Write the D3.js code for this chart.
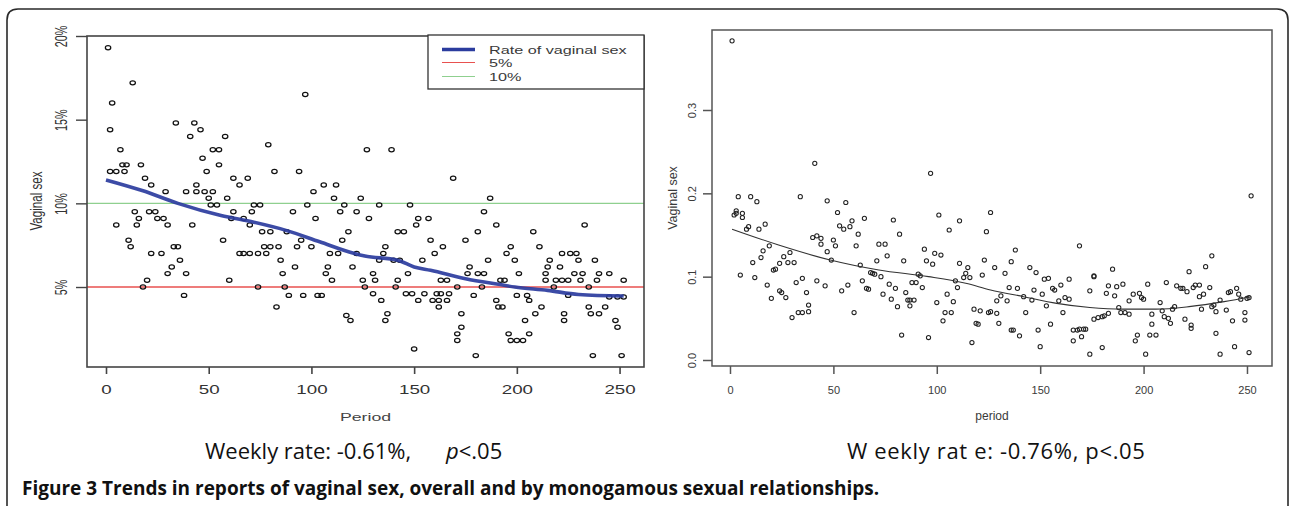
<!DOCTYPE html>
<html><head><meta charset="utf-8">
<script src="https://cdn.jsdelivr.net/npm/d3@7"></script>
<style>body{margin:0;background:#fff}svg{display:block}</style>
</head><body>
<svg id="c" width="1289" height="506"></svg>
<script>
// ---------- DATA ----------
const leftXTicks = [0, 50, 100, 150, 200, 250];
const leftYTicks = [5, 10, 15, 20];
const rightXTicks = [0, 50, 100, 150, 200, 250];
const rightYTicks = [0.0, 0.1, 0.2, 0.3];
const refLines = [5, 10];
const legendLabels = ["Rate of vaginal sex", "5%", "10%"];

// left panel: [period, % vaginal sex]
const leftPoints = [
[1,19.3],[13,17.2],[3,16.0],[2,14.4],[34,14.8],[43,14.8],[46,14.4],[41,14.0],[58,14.0],[97,16.5],[79,13.5],[7,13.2],[52,13.2],[55,13.2],[47,12.7],[55,12.3],[8,12.3],[10,12.3],[17,12.3],[2,11.9],[5,11.9],[9,11.9],[49,11.9],[82,11.9],[94,11.9],[19,11.5],[22,11.1],[29,10.7],[39,10.7],[44,10.7],[48,10.7],[52,10.7],[62,11.5],[69,11.5],[65,11.1],[44,11.1],[59,10.3],[50,10.3],[51,9.9],[54,9.9],[72,9.9],[75,9.9],[98,9.9],[101,10.7],[106,11.1],[112,11.1],[111,10.3],[124,10.3],[116,9.9],[127,13.2],
[14,9.5],[21,9.5],[24,9.5],[16,9.1],[25,9.1],[28,9.1],[5,8.7],[15,8.7],[30,8.7],[42,8.7],[62,9.5],[71,9.5],[61,9.1],[67,9.1],[70,8.7],[91,9.5],[102,9.1],[114,9.5],[122,9.5],[11,7.8],[12,7.4],[57,7.8],[76,8.3],[80,8.3],[88,8.3],[95,7.8],[118,8.3],[115,7.8],[22,7.0],[27,7.0],[33,7.4],[35,7.4],[65,7.0],[67,7.0],[70,7.0],[74,7.0],[78,7.0],[77,7.4],[80,7.4],[84,7.4],[93,7.4],[100,7.4],[109,7.0],[113,7.0],[122,7.0],
[36,6.6],[32,6.2],[30,5.8],[39,5.8],[85,6.6],[92,6.2],[86,5.8],[108,6.2],[107,5.8],[120,6.2],[110,5.4],[60,5.4],[20,5.4],[18,5.0],[74,5.0],[87,5.0],[125,5.4],[126,5.0],[38,4.5],[89,4.5],[96,4.5],[103,4.5],[105,4.5],[83,3.8],[117,3.3],[119,3.0],
[139,13.2],[169,11.5],[187,10.3],[133,9.9],[148,9.9],[128,9.1],[184,9.5],[152,9.1],[157,9.1],[142,8.3],[145,8.3],[151,8.7],[158,7.8],[175,7.8],[181,8.3],[190,8.7],[208,8.3],[233,8.7],[136,7.4],[164,7.4],[160,7.0],[135,7.0],[133,6.6],[140,6.6],[143,6.6],[154,6.6],[177,6.2],[176,5.8],[181,5.8],[184,5.8],[186,6.6],[197,7.4],[195,7.0],[199,6.6],[211,7.4],[216,6.6],[222,7.0],[226,7.0],[229,7.0],[230,6.6],[238,6.6],[215,6.2],[221,6.2],
[130,5.8],[131,5.4],[142,5.4],[147,5.8],[163,5.4],[166,5.4],[171,5.0],[183,5.0],[192,5.4],[194,5.4],[201,5.8],[214,5.8],[228,5.8],[232,5.8],[240,5.8],[245,5.8],[214,5.4],[219,5.4],[222,5.4],[225,5.4],[231,5.4],[239,5.4],[252,5.4],[141,5.0],[218,5.0],[235,5.0],
[146,4.6],[149,4.6],[155,4.6],[161,4.6],[163,4.6],[167,4.6],[179,4.5],[200,4.5],[205,4.5],[225,4.5],[245,4.4],[249,4.4],[252,4.4],[130,4.6],[134,4.2],[152,4.2],[159,4.2],[162,4.2],[166,4.2],[162,3.8],[190,4.2],[191,3.8],[193,3.8],[206,4.2],[212,3.8],[209,3.4],[204,3.0],[235,3.8],[243,3.8],[236,3.4],[240,3.4],[223,3.4],[223,3.0],[137,3.4],[136,3.0],[173,3.4],[173,2.6],[171,2.2],[171,1.8],[196,2.2],[197,1.8],[200,1.8],[203,1.8],[206,2.2],[248,3.0],[249,2.6],[150,1.3],[180,0.9],[237,0.9],[251,0.9]
];
// left panel smoothed rate
const leftTrend = [[0,11.4],[18,10.75],[35,10.0],[56,9.27],[72,8.87],[88,8.37],[104,7.7],[121,7.0],[126,6.85],[142,6.6],[150,6.2],[158,6.0],[175,5.5],[191,5.16],[199,5.0],[215,4.8],[230,4.55],[252,4.46]];

// right panel: [period, proportion]
const rightPoints = [
[1,0.383],[4,0.196],[10,0.196],[13,0.19],[34,0.196],[41,0.236],[47,0.191],[56,0.189],[52,0.177],[97,0.224],[3,0.179],[3,0.176],[2,0.174],[6,0.176],[6,0.171],[9,0.16],[8,0.157],[14,0.157],[17,0.163],[53,0.161],[55,0.157],[58,0.16],[59,0.167],[65,0.17],[79,0.168],[62,0.151],[82,0.151],[101,0.174],[106,0.156],[111,0.167],[124,0.154],[126,0.177],
[40,0.147],[42,0.149],[44,0.146],[44,0.139],[47,0.13],[50,0.144],[51,0.137],[61,0.137],[72,0.139],[75,0.139],[76,0.125],[94,0.133],[99,0.128],[102,0.126],[19,0.137],[16,0.131],[15,0.123],[11,0.117],[29,0.129],[26,0.124],[24,0.116],[22,0.109],[21,0.108],[28,0.117],[31,0.117],[49,0.12],[63,0.114],[71,0.119],[84,0.119],[95,0.119],[98,0.115],[111,0.116],[115,0.111],[114,0.104],[116,0.099],[113,0.099],[123,0.12],[122,0.102],
[5,0.102],[12,0.099],[68,0.105],[69,0.104],[70,0.103],[73,0.1],[91,0.103],[92,0.101],[90,0.093],[88,0.093],[93,0.087],[109,0.095],[110,0.087],[18,0.09],[24,0.083],[25,0.081],[27,0.075],[20,0.074],[32,0.093],[35,0.098],[37,0.081],[42,0.095],[46,0.089],[54,0.083],[57,0.09],[64,0.095],[66,0.086],[67,0.085],[77,0.091],[80,0.086],[74,0.079],[78,0.073],[81,0.064],[85,0.081],[86,0.072],[87,0.072],[89,0.072],[87,0.065],[100,0.069],[105,0.079],[108,0.07],[104,0.057],[107,0.057],[103,0.047],[38,0.066],[38,0.058],[35,0.057],[33,0.057],[30,0.051],[60,0.057],[83,0.03],[96,0.027],[117,0.021],[118,0.061],[121,0.059],[125,0.057],[120,0.043],[119,0.044],
[169,0.137],[252,0.197],[138,0.132],[136,0.118],[133,0.104],[128,0.111],[145,0.111],[148,0.105],[152,0.097],[154,0.098],[164,0.097],[176,0.1],[185,0.109],[135,0.087],[139,0.086],[147,0.084],[151,0.079],[156,0.086],[157,0.084],[160,0.09],[162,0.075],[164,0.073],[129,0.071],[134,0.071],[131,0.077],[142,0.076],[146,0.072],[153,0.065],[159,0.071],[174,0.083],[176,0.101],[182,0.08],[183,0.089],[187,0.088],[190,0.091],[186,0.077],[193,0.071],[195,0.079],[198,0.08],[199,0.075],[200,0.073],[202,0.091],
[211,0.093],[216,0.089],[218,0.086],[219,0.086],[221,0.082],[224,0.087],[225,0.09],[227,0.09],[229,0.079],[227,0.076],[232,0.087],[234,0.066],[237,0.072],[241,0.081],[242,0.082],[245,0.086],[246,0.079],[247,0.073],[250,0.074],[251,0.075],[222,0.106],[230,0.112],[233,0.125],
[126,0.058],[129,0.056],[130,0.044],[136,0.036],[137,0.036],[140,0.029],[143,0.057],[149,0.036],[155,0.043],[161,0.057],[166,0.023],[166,0.036],[168,0.036],[169,0.037],[171,0.037],[172,0.037],[170,0.028],[176,0.049],[178,0.051],[180,0.052],[181,0.053],[183,0.056],[188,0.063],[189,0.057],[191,0.057],[193,0.055],[150,0.016],[174,0.007],[180,0.015],[197,0.03],[196,0.023],[201,0.007],[203,0.03],[206,0.03],[204,0.043],[204,0.055],[208,0.069],[209,0.059],[210,0.052],[212,0.05],[213,0.044],[214,0.061],[215,0.064],[220,0.049],[223,0.042],[223,0.038],[228,0.061],[233,0.064],[235,0.058],[235,0.032],[237,0.007],[240,0.06],[243,0.047],[244,0.016],[249,0.057],[249,0.048],[251,0.009]
];
// right panel smoothed line
const rightTrend = [[1,0.157],[23.5,0.138],[48.5,0.12],[72,0.108],[96,0.1],[114,0.092],[126,0.084],[142,0.076],[158,0.068],[174,0.063],[190,0.061],[206,0.061],[222,0.064],[239,0.07],[252,0.076]];

// ---------- DRAW ----------
const F = "'Liberation Sans', Arial, sans-serif";
const svg = d3.select('#c');

// outer rounded frame (open at bottom)
svg.append('path')
  .attr('d', 'M7,508 L7,20 Q7,9 18,9 L1277,9 Q1288,9 1288,20 L1288,508')
  .attr('fill', 'none').attr('stroke', '#2a2a2a').attr('stroke-width', 1.6);

// ===== Left panel =====
const SX = 1.5; // horizontal stretch of the original raster
const xL = d3.scaleLinear().domain([-9.25, 261.9]).range([87, 644]);
const yL = d3.scaleLinear().domain([0.22, 20]).range([367, 36]);
const gL = svg.append('g');

refLines.forEach((v, i) => {
  gL.append('line').attr('x1', xL.range()[0]).attr('x2', xL.range()[1])
    .attr('y1', yL(v)).attr('y2', yL(v))
    .attr('stroke', i === 0 ? '#e8514f' : '#8fd08f').attr('stroke-width', 1.4);
});

gL.selectAll('ellipse.pt').data(leftPoints).join('ellipse').attr('class', 'pt')
  .attr('cx', d => xL(d[0])).attr('cy', d => yL(d[1]))
  .attr('rx', 2.7).attr('ry', 2.1)
  .attr('fill', 'none').attr('stroke', '#111').attr('stroke-width', 1.25);

gL.append('path').datum(leftTrend)
  .attr('d', d3.line().x(d => xL(d[0])).y(d => yL(d[1])).curve(d3.curveMonotoneX))
  .attr('fill', 'none').attr('stroke', '#2b3c9e').attr('stroke-width', 3.6).attr('stroke-opacity', 0.92);

gL.append('rect').attr('x', 87).attr('y', 36).attr('width', 557).attr('height', 331)
  .attr('fill', 'none').attr('stroke', '#444').attr('stroke-width', 1.6);

// x axis
const gxL = gL.append('g').attr('transform', 'translate(0,367)')
  .call(d3.axisBottom(xL).tickValues(leftXTicks).tickSize(7).tickPadding(0));
gxL.select('.domain').remove();
gxL.selectAll('line').attr('stroke', '#444').attr('stroke-width', 1.6);
gxL.selectAll('text').attr('y', 0).attr('dy', 0)
  .attr('transform', `translate(0,27) scale(${SX},1)`)
  .style('font-family', F).style('font-size', '12.5px').attr('fill', '#333');

// y axis
const gyL = gL.append('g').attr('transform', 'translate(87,0)')
  .call(d3.axisLeft(yL).tickValues(leftYTicks).tickFormat(d => d + '%').tickSize(11));
gyL.select('.domain').remove();
gyL.selectAll('line').attr('stroke', '#444').attr('stroke-width', 1.4);
gyL.selectAll('text').attr('x', 0).attr('y', 0).attr('dy', 0).attr('text-anchor', 'middle')
  .attr('transform', `translate(-20,0) scale(${SX},1) rotate(-90)`)
  .style('font-family', F).style('font-size', '10.8px').attr('fill', '#333');

// titles
gL.append('text').text('Period')
  .attr('transform', `translate(365.5,421) scale(${SX},1)`).attr('text-anchor', 'middle')
  .style('font-family', F).style('font-size', '11.8px').attr('fill', '#444');
gL.append('text').text('Vaginal sex')
  .attr('transform', `translate(42,201) scale(${SX},1) rotate(-90)`).attr('text-anchor', 'middle')
  .style('font-family', F).style('font-size', '11.6px').attr('fill', '#333');

// legend
const lg = gL.append('g');
lg.append('rect').attr('x', 428).attr('y', 35).attr('width', 216).attr('height', 54)
  .attr('fill', '#fff').attr('stroke', '#333').attr('stroke-width', 1.3);
const legColors = ['#2b3c9e', '#e8514f', '#8fd08f'];
const legWidths = [3.6, 1.2, 1.2];
const legY = [49.5, 62.5, 76.5];
legendLabels.forEach((t, i) => {
  lg.append('line').attr('x1', 442).attr('x2', 475).attr('y1', legY[i]).attr('y2', legY[i])
    .attr('stroke', legColors[i]).attr('stroke-width', legWidths[i]);
  lg.append('text').text(t)
    .attr('transform', `translate(489,${legY[i] + 4.3}) scale(${SX},1)`)
    .style('font-family', F).style('font-size', '10.8px').attr('fill', '#3a3a3a');
});

// ===== Right panel =====
const xR = d3.scaleLinear().domain([-8.7, 262.1]).range([712, 1272]);
const yR = d3.scaleLinear().domain([-0.0072, 0.396]).range([366, 30]);
const gR = svg.append('g');

gR.selectAll('circle.pt').data(rightPoints).join('circle').attr('class', 'pt')
  .attr('cx', d => xR(d[0])).attr('cy', d => yR(d[1])).attr('r', 2.1)
  .attr('fill', 'none').attr('stroke', '#222').attr('stroke-width', 1.05);

gR.append('path').datum(rightTrend)
  .attr('d', d3.line().x(d => xR(d[0])).y(d => yR(d[1])).curve(d3.curveMonotoneX))
  .attr('fill', 'none').attr('stroke', '#333').attr('stroke-width', 1.1);

gR.append('rect').attr('x', 712).attr('y', 30).attr('width', 560).attr('height', 336)
  .attr('fill', 'none').attr('stroke', '#555').attr('stroke-width', 1.5);

const gxR = gR.append('g').attr('transform', 'translate(0,366)')
  .call(d3.axisBottom(xR).tickValues(rightXTicks).tickSize(8).tickPadding(0));
gxR.select('.domain').remove();
gxR.selectAll('line').attr('stroke', '#555').attr('stroke-width', 1.5);
gxR.selectAll('text').attr('y', 28).attr('dy', 0)
  .style('font-family', F).style('font-size', '11px').attr('fill', '#3a3a3a');

const gyR = gR.append('g').attr('transform', 'translate(712,0)')
  .call(d3.axisLeft(yR).tickValues(rightYTicks).tickFormat(d3.format('.1f')).tickSize(9));
gyR.select('.domain').remove();
gyR.selectAll('line').attr('stroke', '#555').attr('stroke-width', 1.5);
gyR.selectAll('text').attr('x', 0).attr('y', 0).attr('dy', 0).attr('text-anchor', 'middle')
  .attr('transform', 'translate(-16,0) rotate(-90)')
  .style('font-family', F).style('font-size', '11px').attr('fill', '#3a3a3a');

gR.append('text').text('period').attr('x', 992).attr('y', 420).attr('text-anchor', 'middle')
  .style('font-family', F).style('font-size', '12px').attr('fill', '#3a3a3a');
gR.append('text').text('Vaginal sex')
  .attr('transform', 'translate(677,198) rotate(-90)').attr('text-anchor', 'middle')
  .style('font-family', F).style('font-size', '12.5px').attr('fill', '#3a3a3a');

// ===== Captions =====
const CF = "'Open Sans', 'Noto Sans', sans-serif";
const t1 = svg.append('text').attr('x', 205).attr('y', 459)
  .style('font-family', CF).style('font-size', '22px').attr('fill', '#111');
t1.append('tspan').text('Weekly rate: -0.61%,');
t1.append('tspan').attr('x', 446).style('font-style', 'italic').text('p');
t1.append('tspan').text('<.05');

svg.append('text').attr('x', 847).attr('y', 459)
  .style('font-family', CF).style('font-size', '22px').style('letter-spacing', '0.65px').attr('fill', '#111')
  .text('W eekly rat e: -0.76%, p<.05');

const cap = svg.append('text').attr('x', 22).attr('y', 495)
  .style('font-family', CF).style('font-size', '19px').style('font-weight', 'bold').attr('fill', '#111');
cap.append('tspan').text('Figure 3');
cap.append('tspan').text(' Trends in reports of vaginal sex, overall and by monogamous sexual relationships.');
</script>
</body></html>
